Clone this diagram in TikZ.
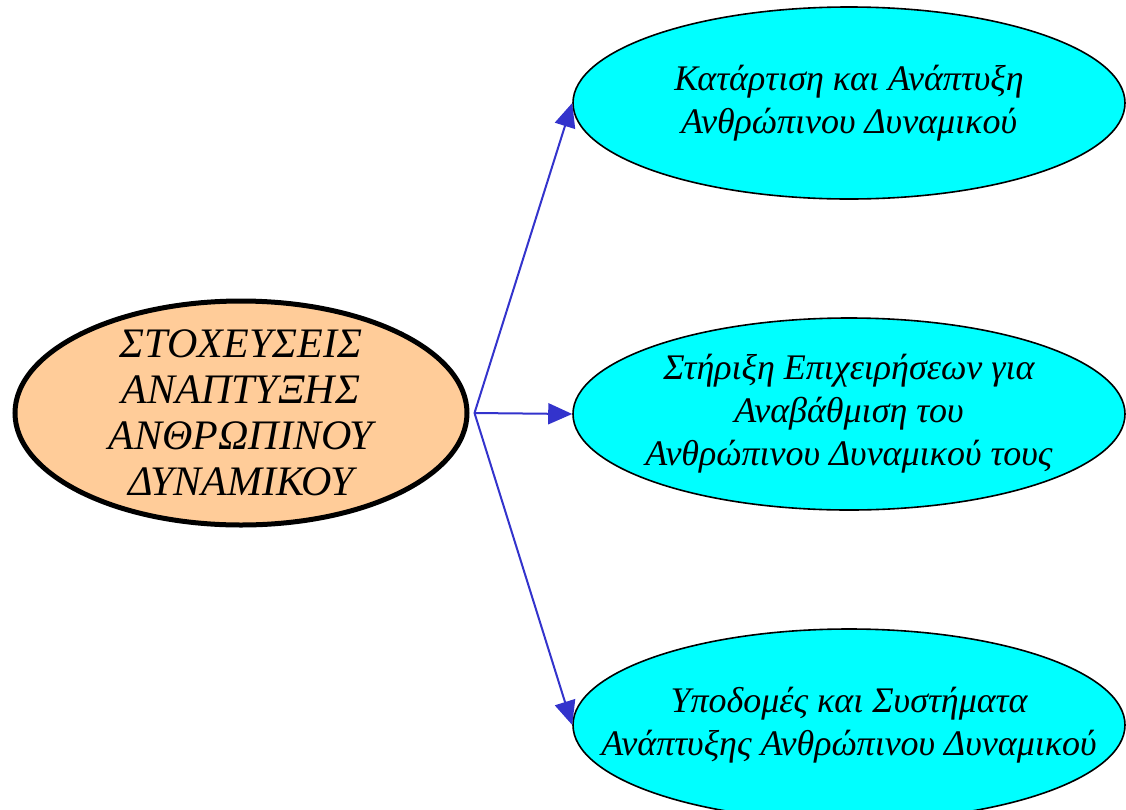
\documentclass[tikz,border=0pt]{standalone}
\usepackage{fontspec}
\setmainfont{Liberation Serif}
\usetikzlibrary{shapes.geometric,arrows.meta,positioning}
\definecolor{peach}{HTML}{FFCC99}
\definecolor{aqua}{HTML}{00FFFF}
\definecolor{linkblue}{HTML}{3333CC}
\begin{document}
\begin{tikzpicture}[x=1pt,y=-1pt,
	goal/.style={ellipse,draw,line width=5pt,fill=peach,minimum width=452pt,minimum height=224pt,
		align=center,font=\fontsize{42}{46}\selectfont\itshape,inner xsep=-40pt,inner ysep=-20pt},
	axis/.style={ellipse,draw,line width=1.6pt,fill=aqua,minimum width=552pt,minimum height=192pt,
		align=center,font=\fontsize{36}{43}\selectfont\itshape,inner xsep=-70pt,inner ysep=-20pt},
	link/.style={draw=linkblue,line width=2pt,-{Triangle[length=24pt,width=21pt]}}]
	\useasboundingbox (0,0) rectangle (1126,809);
	\node[goal] (goal) at (241,413) {ΣΤΟΧΕΥΣΕΙΣ\\ΑΝΑΠΤΥΞΗΣ\\ΑΝΘΡΩΠΙΝΟΥ\\ΔΥΝΑΜΙΚΟΥ};
	\node[axis] (train) at (849,103) {Κατάρτιση και Ανάπτυξη\\Ανθρώπινου Δυναμικού};
	\node[axis] (firms) at (849,414) {Στήριξη Επιχειρήσεων για\\Αναβάθμιση του\\Ανθρώπινου Δυναμικού τους};
	\node[axis] (infra) at (849,725) {Υποδομές και Συστήματα\\Ανάπτυξης Ανθρώπινου Δυναμικού};
	\coordinate (hub) at ([xshift=5pt]goal.east);
	\draw[link] (hub) -- (train.west);
	\draw[link] (hub) -- (firms.west);
	\draw[link] (hub) -- (infra.west);
\end{tikzpicture}
\end{document}
